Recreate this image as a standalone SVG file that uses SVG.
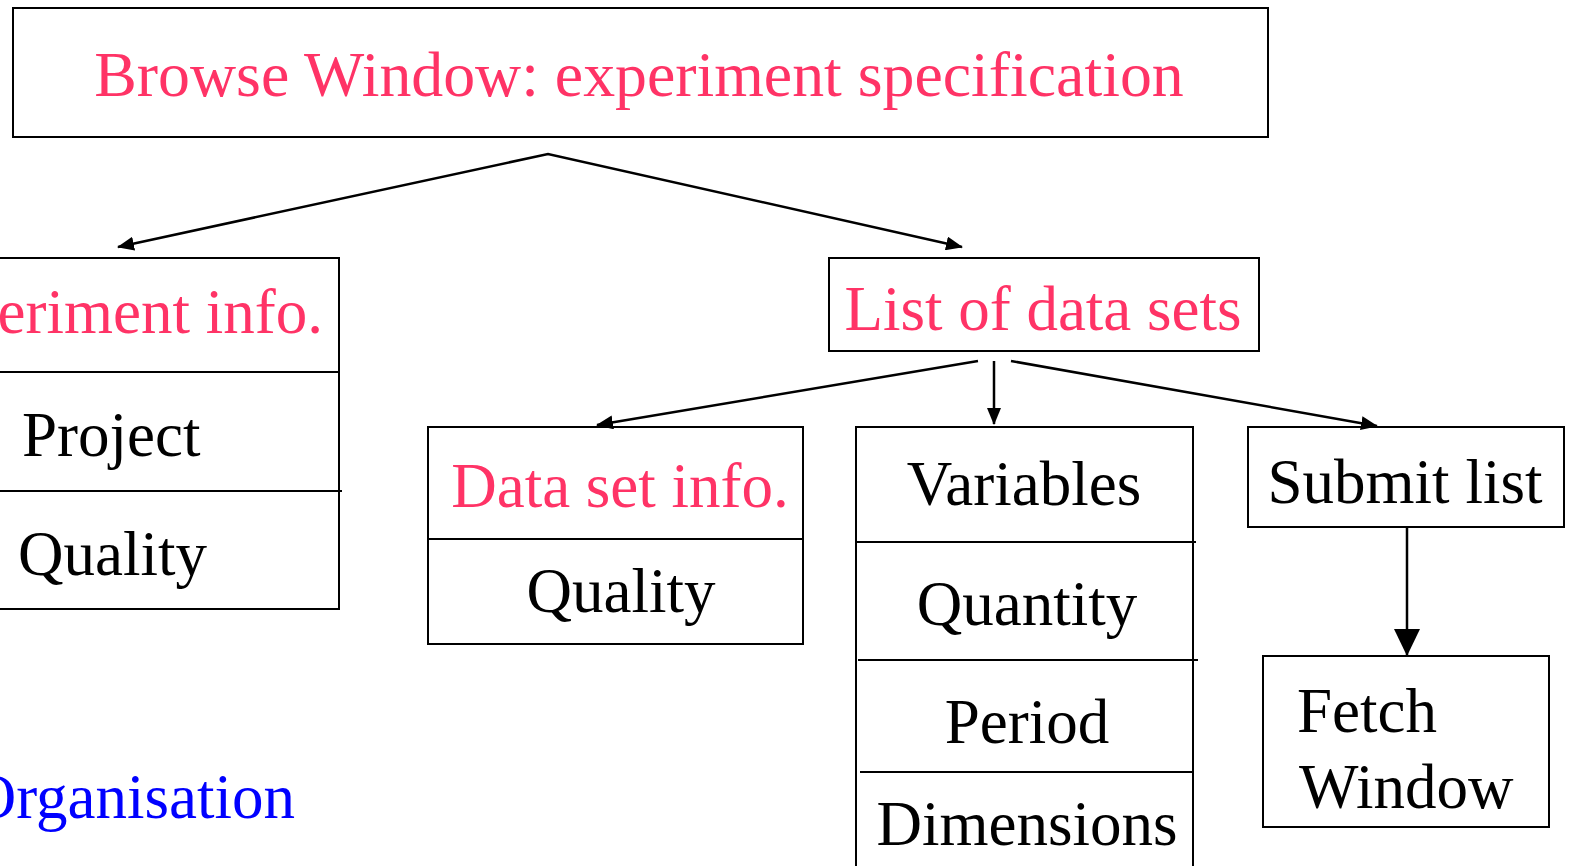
<svg xmlns="http://www.w3.org/2000/svg" width="1570" height="866" viewBox="0 0 1570 866">
<style>
.box{fill:#fff;stroke:#000;stroke-width:2}
.div{stroke:#000;stroke-width:2}
.t{font-family:"Liberation Serif","Times New Roman",serif;font-size:63px;fill:#000}
.p{fill:#ff3366}
.b{fill:#0000ff}
.c{fill:none;stroke:#000;stroke-width:2.5}
</style>
<defs>
<marker id="ah" markerUnits="userSpaceOnUse" markerWidth="18" markerHeight="14" refX="16" refY="7" orient="auto-start-reverse">
<path d="M0,0 L17,7 L0,14 Z" fill="#000"/>
</marker>
<marker id="ahb" markerUnits="userSpaceOnUse" markerWidth="28" markerHeight="28" refX="26" refY="13" orient="auto">
<path d="M0,0 L27,13 L0,26 Z" fill="#000"/>
</marker>
</defs>
<rect width="1570" height="866" fill="#fff"/>

<g id="browse">
<rect class="box" x="13" y="8" width="1255" height="129"/>
<text class="t p" x="639" y="96" text-anchor="middle" style="font-size:63.8px">Browse Window: experiment specification</text>
</g>

<g id="experiment-info">
<rect class="box" x="-10" y="258" width="349" height="351"/>
<line class="div" x1="-10" y1="372" x2="339" y2="372" stroke-width="3"/>
<line class="div" x1="-10" y1="491" x2="342" y2="491"/>
<text class="t p" x="323" y="333" text-anchor="end">eriment info.</text>
<text class="t" x="22" y="456">Project</text>
<text class="t" x="18" y="575">Quality</text>
</g>

<g id="list-data-sets">
<rect class="box" x="829" y="258" width="430" height="93"/>
<text class="t p" x="1043" y="330" text-anchor="middle">List of data sets</text>
</g>

<g id="data-set-info">
<rect class="box" x="428" y="427" width="375" height="217"/>
<line class="div" x1="428" y1="539" x2="803" y2="539"/>
<text class="t p" x="620" y="507" text-anchor="middle">Data set info.</text>
<text class="t" x="621" y="612" text-anchor="middle">Quality</text>
</g>

<g id="variables">
<rect class="box" x="856" y="427" width="337" height="450"/>
<line class="div" x1="856" y1="542" x2="1196" y2="542"/>
<line class="div" x1="858" y1="660" x2="1198" y2="660"/>
<line class="div" x1="860" y1="772" x2="1193" y2="772"/>
<text class="t" x="1024" y="505" text-anchor="middle">Variables</text>
<text class="t" x="1027" y="625" text-anchor="middle">Quantity</text>
<text class="t" x="1027" y="743" text-anchor="middle">Period</text>
<text class="t" x="1027" y="845" text-anchor="middle">Dimensions</text>
</g>

<g id="submit-list">
<rect class="box" x="1248" y="427" width="316" height="100"/>
<text class="t" x="1405" y="503" text-anchor="middle">Submit list</text>
</g>

<g id="fetch-window">
<rect class="box" x="1263" y="656" width="286" height="171"/>
<text class="t" x="1297" y="732">Fetch</text>
<text class="t" x="1299" y="808">Window</text>
</g>

<g id="organisation">
<text class="t b" x="295" y="818" text-anchor="end">Organisation</text>
</g>

<g id="connectors">
<polyline class="c" points="118,247 548,154 962,247" marker-start="url(#ah)" marker-end="url(#ah)"/>
<line class="c" x1="978" y1="361" x2="597" y2="425" marker-end="url(#ah)"/>
<line class="c" x1="994" y1="361" x2="994" y2="424" marker-end="url(#ah)"/>
<line class="c" x1="1011" y1="361" x2="1377" y2="426" marker-end="url(#ah)"/>
<line class="c" x1="1407" y1="527" x2="1407" y2="655" marker-end="url(#ahb)"/>
</g>
</svg>
